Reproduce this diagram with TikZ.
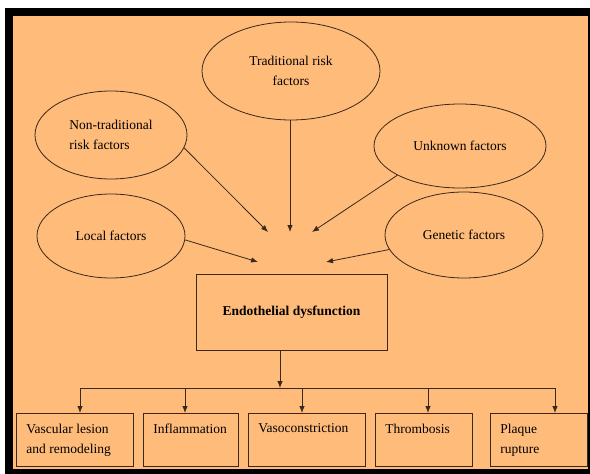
\documentclass[tikz,border=0pt]{standalone}
\usepackage{fontspec}
\setmainfont{Liberation Serif}
\usetikzlibrary{arrows.meta,shapes.geometric,calc}
\usepackage{tkz-euclide}
\definecolor{PanelClr}{RGB}{255,187,122}
\definecolor{LineClr}{RGB}{58,40,26}
\newcommand\boxtxt[2]{\parbox[t][32pt][t]{#1}{\raggedright #2}}

\begin{document}
\begin{tikzpicture}[x=1pt,y=-1pt,font=\fontsize{13.5}{20}\selectfont,
  fac/.style={ellipse,draw=LineClr,line width=.8pt,align=center,inner sep=0pt},
  leaf/.style={draw=LineClr,line width=.8pt,anchor=north west,minimum height=53pt,inner xsep=10pt,inner ysep=0pt},
  conn/.style={draw=LineClr,line width=.8pt,-{Latex[length=7pt,width=5.5pt]}},
  wire/.style={draw=LineClr,line width=.8pt}]
\useasboundingbox (0,0) rectangle (590,474);
\fill[black] (5,8) rectangle (590,474);
\fill[PanelClr] (13,16) rectangle (588,469);

\node[fac,minimum width=178pt,minimum height=98pt] (trad) at (291,71) {Traditional risk\\factors};
\node[fac,minimum width=152pt,minimum height=88pt,align=left] (nontrad) at (111,135) {Non-traditional\\risk factors};
\node[fac,minimum width=172pt,minimum height=84pt] (unknown) at (460,146) {Unknown factors};
\node[fac,minimum width=148pt,minimum height=84pt] (local) at (111,236) {Local factors};
\node[fac,minimum width=158pt,minimum height=86pt] (genetic) at (464,235) {Genetic factors};

\node[draw=LineClr,line width=.8pt,minimum width=191pt,minimum height=76pt,font=\fontsize{13.5}{20}\selectfont\bfseries] (endo) at (291.5,312) {Endothelial dysfunction};

\node[leaf,minimum width=117pt] (lesion) at (16,413) {\boxtxt{97pt}{Vascular lesion\\and remodeling}};
\node[leaf,minimum width=95pt] (inflam) at (143,413) {\boxtxt{75pt}{Inflammation}};
\node[leaf,minimum width=117pt] (vaso) at (248,413) {\boxtxt{97pt}{Vasoconstriction}};
\node[leaf,minimum width=97pt] (thromb) at (375,413) {\boxtxt{77pt}{Thrombosis}};
\node[leaf,minimum width=97pt] (plaque) at (490,413) {\boxtxt{77pt}{Plaque\\rupture}};

% arrow ends in front of the box
\tkzDefPoints{268/232/tN,290/232/tT,312/232/tU,258/262/tL,326/262/tG}
\draw[conn] (nontrad.-10) -- (tN);
\draw[conn] (trad.south -| tT) -- (tT);
\draw[conn] (unknown.205) -- (tU);
\draw[conn] (local.-3) -- (tL);
\draw[conn] (genetic.191) -- (tG);

% split to the outcomes
\tkzDefPoints{280/388/S,80/388/D1,185/388/D2,302/388/D3,428/388/D4,555/388/D5}
\draw[conn] (endo.south -| S) -- (S);
\draw[wire] (D1) -- (D5);
\foreach \d/\b in {D1/lesion,D2/inflam,D3/vaso,D4/thromb,D5/plaque}
  \draw[conn] (\d) -- (\d |- \b.north);

\end{tikzpicture}
\end{document}
